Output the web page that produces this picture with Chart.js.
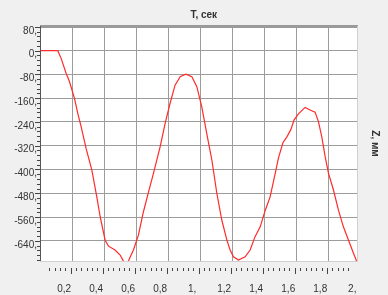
<!DOCTYPE html>
<html>
<head>
<meta charset="utf-8">
<script src="https://cdn.jsdelivr.net/npm/chart.js@4/dist/chart.umd.min.js"></script>
<style>
html, body { margin: 0; padding: 0; background: #f0f0f0; }
</style>
</head>
<body>
<canvas id="c" width="388" height="295"></canvas>
<script>
// time, s
const tSec = [0, 0.106, 0.127, 0.158, 0.179, 0.21, 0.231, 0.252, 0.283, 0.319,
  0.35, 0.371, 0.402, 0.423, 0.464, 0.496, 0.513, 0.53, 0.548, 0.579,
  0.61, 0.641, 0.673, 0.704, 0.746, 0.777, 0.808, 0.839, 0.871, 0.906,
  0.944, 0.975, 1.006, 1.041, 1.069, 1.1, 1.131, 1.163, 1.183, 1.204,
  1.235, 1.277, 1.308, 1.339, 1.371, 1.403, 1.433, 1.465, 1.485, 1.513,
  1.538, 1.563, 1.583, 1.61, 1.652, 1.683, 1.714, 1.735, 1.756, 1.777,
  1.798, 1.829, 1.86, 1.891, 1.923, 1.954, 1.976];
// Z, mm
const zMm = [0, 0, -26, -76, -104, -160, -211, -256, -329, -402,
  -492, -559, -638, -658, -671, -688, -705, -725, -707, -671,
  -621, -543, -476, -413, -323, -245, -177, -116, -88, -79,
  -88, -121, -189, -290, -368, -480, -570, -638, -671, -694,
  -705, -694, -671, -626, -593, -537, -492, -413, -362, -310,
  -290, -265, -233, -213, -191, -200, -207, -239, -290, -357,
  -413, -469, -537, -593, -638, -682, -712];

const xRange = [-0.005, 1.976];
const yRange = [-708, 83];
const xStep = 0.2;
const yStep = 80;

const fontName = '"Liberation Sans", Arial, sans-serif';

// comma-style number labels like "0,2" / "-80,"
function xLabel(v) {
  const s = String(Math.round(v * 10) / 10).replace('.', ',');
  return s.indexOf(',') < 0 ? s + ',' : s;
}
function yLabel(v) {
  return v + ',';
}

const plotBg = {
  id: 'plotBg',
  beforeDraw(chart) {
    const { ctx, chartArea: a } = chart;
    ctx.save();
    ctx.fillStyle = '#ffffff';
    ctx.fillRect(a.left, a.top, a.right - a.left, a.bottom - a.top);
    ctx.restore();
  }
};

const ruler = {
  id: 'ruler',
  afterDraw(chart) {
    const { ctx, chartArea: a } = chart;
    const x = chart.scales.x;
    const y = chart.scales.y;
    ctx.save();
    ctx.strokeStyle = '#444';
    ctx.lineWidth = 1;
    // tick strip under the plot
    for (let i = -6; i <= 66; i++) {
      const v = i * xStep / 6;
      const px = Math.round(x.getPixelForValue(v) - 2) + 0.5;
      if (px < a.left + 5 || px > a.right - 3) continue;
      const major = i % 6 === 0;
      ctx.beginPath();
      ctx.moveTo(px, a.bottom + 7);
      ctx.lineTo(px, a.bottom + (major ? 13 : 10));
      ctx.stroke();
    }
    // ticks left of the plot
    for (let i = -50; i <= 6; i++) {
      const v = i * yStep / 5;
      const py = Math.round(y.getPixelForValue(v)) + 0.5;
      if (py < a.top || py > a.bottom) continue;
      const major = i % 5 === 0;
      ctx.beginPath();
      ctx.moveTo(a.left - (major ? 5 : 3), py);
      ctx.lineTo(a.left, py);
      ctx.stroke();
    }
    // frame
    ctx.strokeStyle = '#9a9a9a';
    ctx.lineWidth = 3;
    ctx.beginPath();
    ctx.moveTo(a.left, a.top + 0.5);
    ctx.lineTo(a.right + 1, a.top + 0.5);
    ctx.stroke();
    ctx.lineWidth = 1;
    ctx.strokeStyle = '#555';
    ctx.beginPath();
    ctx.moveTo(a.left + 0.5, a.top);
    ctx.lineTo(a.left + 0.5, a.bottom + 1);
    ctx.stroke();
    ctx.strokeStyle = '#d0d0d0';
    ctx.beginPath();
    ctx.moveTo(a.right + 0.5, a.top);
    ctx.lineTo(a.right + 0.5, a.bottom + 1);
    ctx.moveTo(a.left, a.bottom + 0.5);
    ctx.lineTo(a.right + 1, a.bottom + 0.5);
    ctx.stroke();
    ctx.restore();
  }
};

const points = tSec.map((t, i) => ({ x: t, y: zMm[i] }));

new Chart(document.getElementById('c'), {
  type: 'line',
  data: {
    datasets: [{
      data: points,
      borderColor: '#ff2a2a',
      borderWidth: 1.2,
      pointRadius: 0,
      tension: 0,
      fill: false
    }]
  },
  options: {
    responsive: false,
    animation: false,
    layout: { padding: 0 },
    plugins: {
      legend: { display: false },
      tooltip: { enabled: false },
      title: {
        display: true,
        text: '       T, сек',
        color: '#333',
        font: { family: fontName, size: 10, weight: 'bold' },
        padding: { top: 9, bottom: 5 }
      }
    },
    scales: {
      x: {
        type: 'linear',
        min: xRange[0],
        max: xRange[1],
        ticks: { display: false, stepSize: xStep, includeBounds: false },
        grid: { color: '#9c9c9c', drawTicks: false },
        border: { display: false },
        afterFit(s) { s.height = 0; }
      },
      xLabels: {
        type: 'linear',
        position: 'bottom',
        min: xRange[0] + 0.0537,
        max: xRange[1] + 0.0537,
        ticks: {
          stepSize: xStep,
          includeBounds: false,
          callback: xLabel,
          color: '#333',
          font: { family: fontName, size: 10 },
          maxRotation: 0,
          autoSkip: false,
          padding: 14
        },
        grid: { display: false },
        border: { display: false },
        afterFit(s) { s.height = 34; }
      },
      y: {
        type: 'linear',
        min: yRange[0],
        max: yRange[1],
        ticks: {
          stepSize: yStep,
          includeBounds: false,
          callback: yLabel,
          color: '#333',
          font: { family: fontName, size: 10 },
          padding: 3,
          labelOffset: 4
        },
        grid: { color: '#9c9c9c', drawTicks: false },
        border: { display: false },
        afterFit(s) { s.width = 40; }
      },
      yRight: {
        type: 'linear',
        position: 'right',
        min: yRange[0],
        max: yRange[1],
        ticks: { display: false },
        grid: { display: false },
        border: { display: false },
        title: {
          display: true,
          text: 'Z, мм',
          color: '#333',
          font: { family: fontName, size: 10, weight: 'bold' },
          padding: { top: 7, bottom: 0 }
        },
        afterFit(s) { s.width = 31; }
      }
    }
  },
  plugins: [plotBg, ruler]
});
</script>
</body>
</html>
